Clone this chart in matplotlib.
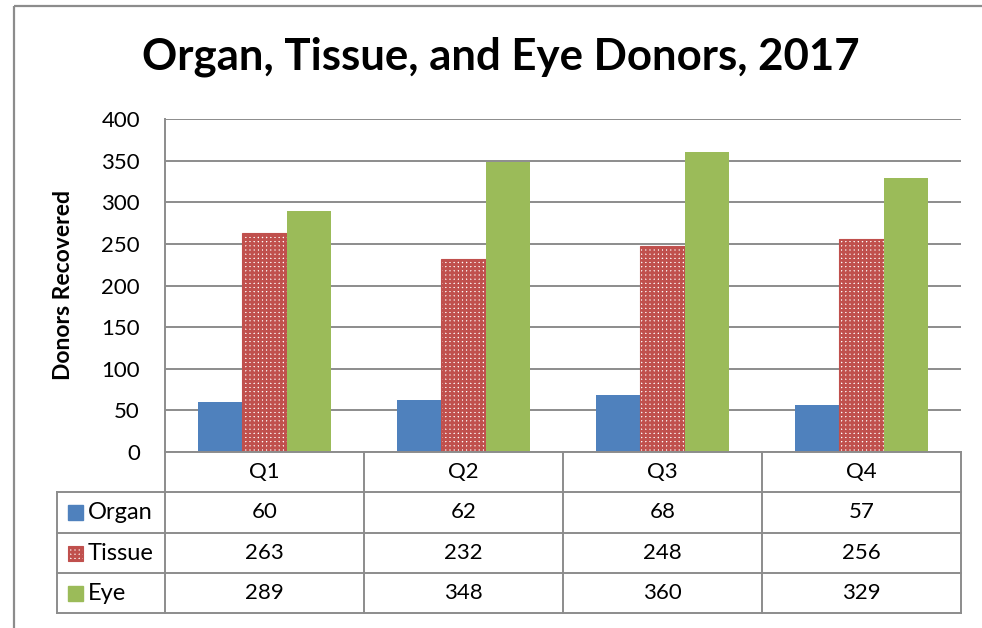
import matplotlib
matplotlib.use('Agg')
import matplotlib.pyplot as plt
from matplotlib.patches import Rectangle

quarters = ['Q1', 'Q2', 'Q3', 'Q4']
series_names = ['Organ', 'Tissue', 'Eye']
organ = [60, 62, 68, 57]
tissue = [263, 232, 248, 256]
eye = [289, 348, 360, 329]

C_ORGAN = '#4F81BD'
C_TISSUE = '#C0504D'
C_EYE = '#9BBB59'
C_GRID = '#8C8C8C'
FONT = 'Lato'

plt.rcParams['font.family'] = [FONT, 'DejaVu Sans']
plt.rcParams['hatch.linewidth'] = 2.0

W, H = 982, 628
fig = plt.figure(figsize=(W / 100, H / 100), dpi=100)

# pixel layout of the plot area
px_l, px_r, px_t, px_b = 165, 961, 119, 452
ax = fig.add_axes([px_l / W, 1 - px_b / H, (px_r - px_l) / W, (px_b - px_t) / H])

x = list(range(len(quarters)))
bw = 0.223
ax.bar([i - bw for i in x], organ, bw, color=C_ORGAN, zorder=3)
ax.bar(x, tissue, bw, facecolor='white', edgecolor=C_TISSUE, hatch='++++',
       linewidth=0.8, zorder=3)
ax.bar([i + bw for i in x], eye, bw, color=C_EYE, zorder=3)

ax.set_xlim(-0.5, len(quarters) - 0.5)
ax.set_ylim(0, 400)
ax.set_yticks(range(0, 401, 50))
ax.yaxis.grid(True, color=C_GRID, linewidth=1.4, zorder=0)
ax.set_xticks([])
ax.tick_params(axis='y', length=0, labelsize=16, pad=18)
for s in ['top', 'right', 'bottom']:
    ax.spines[s].set_visible(False)
ax.spines['left'].set_color(C_GRID)
ax.spines['left'].set_linewidth(1.4)
ax.set_ylabel('Donors Recovered', fontsize=16.5, fontweight='bold', labelpad=20)

# overlay in pixel coordinates for title, table and border
ov = fig.add_axes([0, 0, 1, 1], zorder=5)
ov.set_xlim(0, W)
ov.set_ylim(H, 0)
ov.axis('off')
ov.patch.set_alpha(0)

ov.add_patch(Rectangle((14, 6), 1000, 700, fill=False, edgecolor='#8C8C8C',
                       linewidth=1.6))
ov.text(501, 57, 'Organ, Tissue, and Eye Donors, 2017', fontsize=31.5,
        fontweight='bold', ha='center', va='center')

col_x = [165, 364, 563, 762, 961]
row_y = [452, 492, 533, 573, 613]
lw = 1.4
# header row
ov.plot([col_x[0], col_x[-1]], [row_y[0], row_y[0]], color=C_GRID, lw=lw)
for cx in col_x:
    ov.plot([cx, cx], [row_y[0], row_y[-1]], color=C_GRID, lw=lw)
for ry in row_y[1:]:
    ov.plot([57, col_x[-1]], [ry, ry], color=C_GRID, lw=lw)
ov.plot([57, 57], [row_y[1], row_y[-1]], color=C_GRID, lw=lw)

for j, q in enumerate(quarters):
    cx = (col_x[j] + col_x[j + 1]) / 2
    ov.text(cx, (row_y[0] + row_y[1]) / 2, q, fontsize=16, ha='center', va='center')

rows = [organ, tissue, eye]
for i, (name, vals) in enumerate(zip(series_names, rows)):
    cy = (row_y[i + 1] + row_y[i + 2]) / 2
    if name == 'Tissue':
        key = Rectangle((68, cy - 7.5), 15, 15, facecolor='white', edgecolor=C_TISSUE,
                        hatch='++++', linewidth=0.8)
    else:
        key = Rectangle((68, cy - 7.5), 15, 15, color=C_ORGAN if name == 'Organ' else C_EYE)
    ov.add_patch(key)
    ov.text(88, cy, name, fontsize=17, ha='left', va='center')
    for j, v in enumerate(vals):
        cx = (col_x[j] + col_x[j + 1]) / 2
        ov.text(cx, cy, str(v), fontsize=16, ha='center', va='center')

fig.savefig('out.png', dpi=100, facecolor='white')
